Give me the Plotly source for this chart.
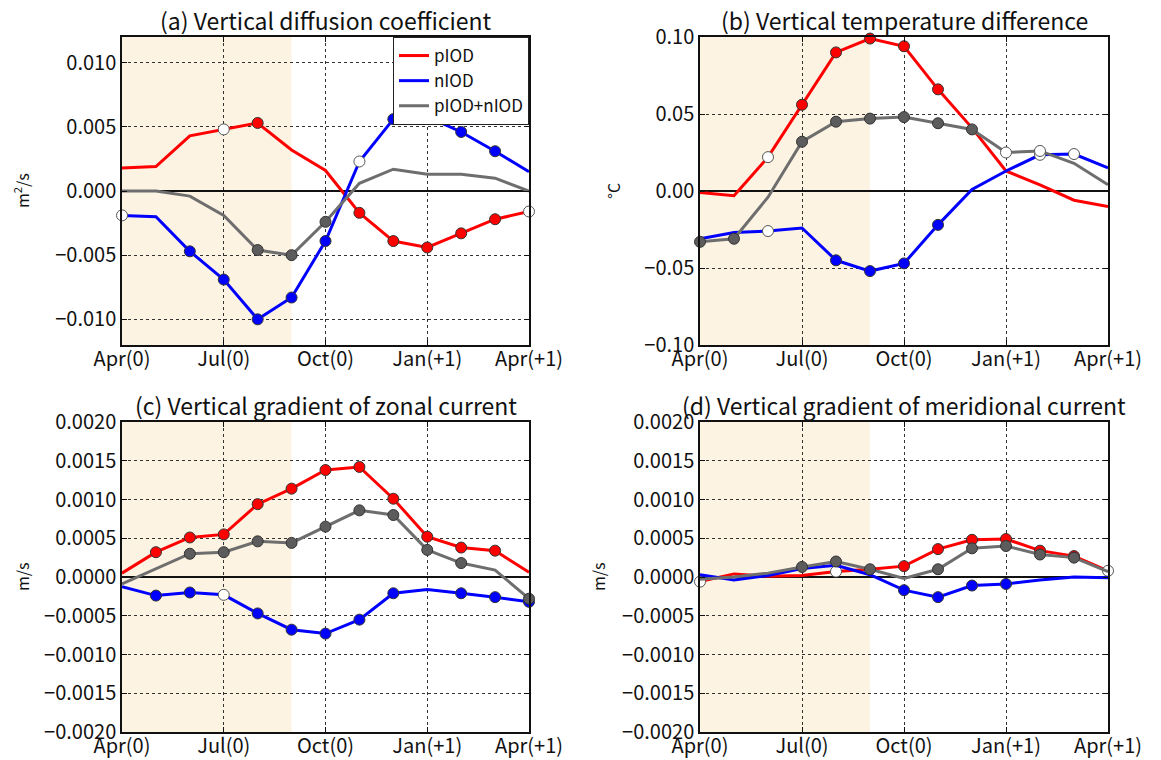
import plotly.graph_objects as go

months = list(range(13))
tick_vals = [0, 3, 6, 9, 12]
tick_text = ["Apr(0)", "Jul(0)", "Oct(0)", "Jan(+1)", "Apr(+1)"]
series_names = ["pIOD", "nIOD", "pIOD+nIOD"]

# (a) Vertical diffusion coefficient
a_pIOD = [0.0018, 0.0019, 0.0043, 0.0048, 0.0053, 0.0032, 0.0016, -0.0017, -0.0039, -0.0044, -0.0033, -0.0022, -0.0016]
a_nIOD = [-0.0019, -0.0020, -0.0047, -0.0069, -0.0100, -0.0083, -0.0039, 0.0023, 0.0056, 0.0058, 0.0046, 0.0031, 0.0015]
a_sum = [0.0000, 0.0000, -0.0004, -0.0019, -0.0046, -0.0050, -0.0024, 0.0006, 0.0017, 0.0013, 0.0013, 0.0010, 0.0000]
a_sig_pIOD = [0, 0, 0, 1, 2, 0, 0, 2, 2, 2, 2, 2, 1]
a_sig_nIOD = [1, 0, 2, 2, 2, 2, 2, 1, 2, 2, 2, 2, 0]
a_sig_sum = [0, 0, 0, 0, 2, 2, 2, 0, 0, 0, 0, 0, 0]

# (b) Vertical temperature difference
b_pIOD = [-0.001, -0.003, 0.022, 0.056, 0.090, 0.099, 0.094, 0.066, 0.041, 0.013, 0.004, -0.006, -0.010]
b_nIOD = [-0.031, -0.027, -0.026, -0.024, -0.045, -0.052, -0.047, -0.022, 0.001, 0.013, 0.0235, 0.024, 0.015]
b_sum = [-0.033, -0.031, -0.004, 0.032, 0.045, 0.047, 0.048, 0.044, 0.040, 0.025, 0.026, 0.018, 0.004]
b_sig_pIOD = [0, 0, 1, 2, 2, 2, 2, 2, 0, 0, 0, 0, 0]
b_sig_nIOD = [0, 0, 1, 0, 2, 2, 2, 2, 0, 0, 1, 1, 0]
b_sig_sum = [2, 2, 0, 2, 2, 2, 2, 2, 2, 1, 1, 0, 0]

# (c) Vertical gradient of zonal current
c_pIOD = [0.00005, 0.00032, 0.00051, 0.00055, 0.00094, 0.00114, 0.00138, 0.00142, 0.00101, 0.00052, 0.00038, 0.00034, 0.00006]
c_nIOD = [-0.000125, -0.00024, -0.00020, -0.00023, -0.00047, -0.00068, -0.00073, -0.00055, -0.00021, -0.00016, -0.00021, -0.00026, -0.00032]
c_sum = [-0.00009, 0.00010, 0.00030, 0.00032, 0.00046, 0.00044, 0.00065, 0.00086, 0.00080, 0.00035, 0.00018, 0.00009, -0.00028]
c_sig_pIOD = [0, 2, 2, 2, 2, 2, 2, 2, 2, 2, 2, 2, 0]
c_sig_nIOD = [0, 2, 2, 1, 2, 2, 2, 2, 2, 0, 2, 2, 2]
c_sig_sum = [0, 0, 2, 2, 2, 2, 2, 2, 2, 2, 2, 0, 2]

# (d) Vertical gradient of meridional current
d_pIOD = [-0.00006, 0.00004, 0.00001, 0.00002, 0.00007, 0.00010, 0.00014, 0.00036, 0.00048, 0.00049, 0.00034, 0.00027, 0.00008]
d_nIOD = [0.00003, -0.00004, 0.00002, 0.00011, 0.00015, 0.00003, -0.00017, -0.00026, -0.00011, -0.00009, -0.00004, 0.00000, -0.00001]
d_sum = [-0.00003, 0.00000, 0.00005, 0.00013, 0.00020, 0.00010, -0.00002, 0.00010, 0.00037, 0.00040, 0.00029, 0.00025, 0.00007]
d_sig_pIOD = [1, 0, 0, 0, 1, 0, 2, 2, 2, 2, 2, 2, 1]
d_sig_nIOD = [0, 0, 0, 0, 0, 0, 2, 2, 2, 2, 0, 0, 0]
d_sig_sum = [0, 0, 0, 2, 2, 2, 0, 2, 2, 2, 2, 2, 0]

titles = ["(a) Vertical diffusion coefficient", "(b) Vertical temperature difference",
          "(c) Vertical gradient of zonal current", "(d) Vertical gradient of meridional current"]
ytitles = ["m<sup>2</sup>/s", "°C", "m/s", "m/s"]
yranges = [[-0.012, 0.012], [-0.1, 0.1], [-0.002, 0.002], [-0.002, 0.002]]
ydticks = [0.005, 0.05, 0.0005, 0.0005]
yformats = [".3f", ".2f", ".4f", ".4f"]
shade_start, shade_end = 0, 5

panels = [
    ([a_pIOD, a_nIOD, a_sum], [a_sig_pIOD, a_sig_nIOD, a_sig_sum]),
    ([b_pIOD, b_nIOD, b_sum], [b_sig_pIOD, b_sig_nIOD, b_sig_sum]),
    ([c_pIOD, c_nIOD, c_sum], [c_sig_pIOD, c_sig_nIOD, c_sig_sum]),
    ([d_pIOD, d_nIOD, d_sum], [d_sig_pIOD, d_sig_nIOD, d_sig_sum]),
]

W, H = 1161, 760
boxes = [(122, 529, 37, 345), (700, 1108, 37, 345), (122, 529, 422, 732), (700, 1108, 422, 732)]
ytitle_x = [22, 613, 22, 598]

line_colors = ["#ff0000", "#0000ff", "#6e6e6e"]
fill_colors = ["#ff0000", "#0000ff", "#5c5c5c"]
FONT = "Noto Sans CJK JP"
TICK = 20

fig = go.Figure()
layout = dict(width=W, height=H, margin=dict(l=0, r=0, t=0, b=0, autoexpand=False),
              paper_bgcolor="white", plot_bgcolor="white",
              font=dict(family=FONT, color="#111111"),
              shapes=[], annotations=[])

for p, (vals, sigs) in enumerate(panels):
    n = p + 1
    xa = "x" if n == 1 else f"x{n}"
    ya = "y" if n == 1 else f"y{n}"
    xkey = "xaxis" if n == 1 else f"xaxis{n}"
    ykey = "yaxis" if n == 1 else f"yaxis{n}"
    x0, x1, y0, y1 = boxes[p]
    layout[xkey] = dict(domain=[x0 / W, x1 / W], anchor=ya, range=[0, 12], automargin=False,
                        tickvals=tick_vals, ticktext=tick_text, ticklabelstandoff=-5,
                        tickfont=dict(size=TICK, family=FONT, color="#111"),
                        showgrid=True, gridcolor="#333", griddash="dot", gridwidth=1,
                        zeroline=False, showline=True, linecolor="#111", linewidth=1.5,
                        mirror="allticks", ticks="inside", ticklen=5, tickcolor="#111")
    layout[ykey] = dict(domain=[1 - y1 / H, 1 - y0 / H], anchor=xa, range=yranges[p],
                        automargin=False,
                        dtick=ydticks[p], tick0=0, tickformat=yformats[p],
                        tickfont=dict(size=TICK, family=FONT, color="#111"),
                        showgrid=True, gridcolor="#333", griddash="dot", gridwidth=1,
                        zeroline=True, zerolinecolor="#111", zerolinewidth=1.5,
                        showline=True, linecolor="#111", linewidth=1.5,
                        mirror="allticks", ticks="inside", ticklen=5, tickcolor="#111")
    layout["shapes"].append(dict(type="rect", xref=xa, yref=f"{ya} domain",
                                 x0=shade_start, x1=shade_end, y0=0, y1=1,
                                 fillcolor="#fdf3e2", line=dict(width=0), layer="below"))
    layout["annotations"].append(dict(text=titles[p], xref="paper", yref="paper",
                                      x=(x0 + x1) / 2 / W, y=1 - (y0 - 17) / H,
                                      xanchor="center", yanchor="middle", showarrow=False,
                                      font=dict(size=23, family=FONT, color="#111")))
    layout["annotations"].append(dict(text=ytitles[p], xref="paper", yref="paper",
                                      x=ytitle_x[p] / W, y=1 - (y0 + y1) / 2 / H,
                                      xanchor="center", yanchor="middle", showarrow=False,
                                      textangle=-90,
                                      font=dict(size=16, family=FONT, color="#111")))
    for s in range(3):
        v = vals[s]
        sg = sigs[s]
        fig.add_trace(go.Scatter(x=months, y=v, mode="lines", xaxis=xa, yaxis=ya,
                                 line=dict(color=line_colors[s], width=3),
                                 name=series_names[s], showlegend=(p == 0),
                                 legendgroup=series_names[s]))
        xs_f = [m for m, g in zip(months, sg) if g == 2]
        ys_f = [y for y, g in zip(v, sg) if g == 2]
        xs_w = [m for m, g in zip(months, sg) if g == 1]
        ys_w = [y for y, g in zip(v, sg) if g == 1]
        fig.add_trace(go.Scatter(x=xs_f, y=ys_f, mode="markers", xaxis=xa, yaxis=ya,
                                 marker=dict(size=11, color=fill_colors[s],
                                             line=dict(color="#333333", width=1)),
                                 showlegend=False, cliponaxis=False, hoverinfo="skip"))
        fig.add_trace(go.Scatter(x=xs_w, y=ys_w, mode="markers", xaxis=xa, yaxis=ya,
                                 marker=dict(size=11, color="white",
                                             line=dict(color="#555555", width=1)),
                                 showlegend=False, cliponaxis=False, hoverinfo="skip"))

layout["legend"] = dict(x=529 / W, y=1 - 37 / H, xanchor="right", yanchor="top",
                        bgcolor="white", bordercolor="#222", borderwidth=1,
                        font=dict(size=17, family=FONT, color="#111"),
                        tracegroupgap=0, itemwidth=30)
fig.update_layout(**layout)
fig.write_html("out.html")
